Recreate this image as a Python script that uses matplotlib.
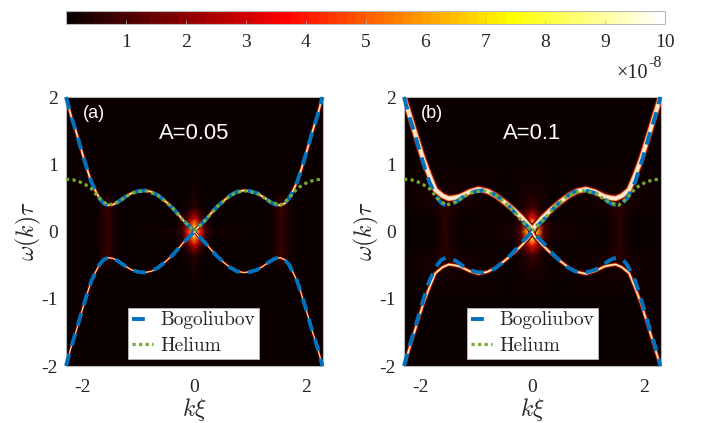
import numpy as np
import matplotlib
matplotlib.use("Agg")
import matplotlib.pyplot as plt

plt.rcParams["axes.unicode_minus"] = False
plt.rcParams["mathtext.fontset"] = "cm"

# curves, read for k >= 0 and mirrored
k_bog = [0.0, 0.1, 0.2, 0.3, 0.41, 0.53, 0.65, 0.76, 0.88, 1.0, 1.12, 1.24, 1.36, 1.45, 1.54, 1.62, 1.69, 1.76, 1.84, 1.91, 1.98, 2.04, 2.10, 2.2, 2.29]
w_bog = [0.0, 0.09, 0.17, 0.27, 0.37, 0.46, 0.54, 0.59, 0.61, 0.6, 0.57, 0.51, 0.44, 0.40, 0.39, 0.42, 0.49, 0.6, 0.74, 0.92, 1.11, 1.28, 1.46, 1.72, 2.0]
k_he = [0.0, 0.2, 0.41, 0.65, 0.88, 1.12, 1.36, 1.54, 1.69, 1.84, 1.95, 2.05, 2.17, 2.29]
w_he = [0.0, 0.17, 0.37, 0.54, 0.61, 0.57, 0.44, 0.39, 0.49, 0.64, 0.70, 0.74, 0.77, 0.776]

# bright bands of the two maps
k_band_a = k_bog
w_band_a = w_bog
k_band_b = [0.0, 0.04, 0.18, 0.33, 0.5, 0.66, 0.8, 0.96, 1.12, 1.29, 1.4, 1.49, 1.6, 1.73, 1.83, 1.94, 2.05, 2.16, 2.29]
w_band_b = [0.0, 0.07, 0.2, 0.32, 0.44, 0.54, 0.6, 0.63, 0.59, 0.52, 0.5, 0.49, 0.53, 0.62, 0.82, 1.06, 1.35, 1.65, 2.0]

# background intensity, read for k >= 0 and w >= 0 (units of 1e-8)
haze_k = [0.0, 0.1, 0.2, 0.35, 1.3, 1.42, 1.55, 1.68, 1.8, 2.3]
haze_w = [0.0, 0.1, 0.2, 0.35, 0.6, 1.0, 2.0]
haze_a = [
    [10.0, 4.5, 0.8, 0.2, 0.1, 0.3, 0.7, 0.3, 0.1, 0.1],
    [6.0, 3.0, 0.5, 0.15, 0.1, 0.3, 0.7, 0.3, 0.1, 0.1],
    [3.0, 1.2, 0.3, 0.12, 0.1, 0.3, 0.7, 0.3, 0.1, 0.1],
    [0.5, 0.3, 0.15, 0.1, 0.1, 0.3, 0.8, 0.3, 0.1, 0.1],
    [0.2, 0.15, 0.1, 0.1, 0.1, 0.1, 0.1, 0.1, 0.1, 0.1],
    [0.1, 0.1, 0.1, 0.1, 0.1, 0.1, 0.1, 0.1, 0.1, 0.1],
    [0.1, 0.1, 0.1, 0.1, 0.1, 0.1, 0.1, 0.1, 0.1, 0.1],
]
haze_b = [
    [10.0, 6.0, 1.2, 0.25, 0.1, 0.3, 0.5, 0.3, 0.1, 0.1],
    [8.0, 4.0, 0.8, 0.2, 0.1, 0.3, 0.5, 0.3, 0.1, 0.1],
    [4.0, 2.0, 0.5, 0.15, 0.1, 0.3, 0.5, 0.3, 0.1, 0.1],
    [0.8, 0.5, 0.25, 0.15, 0.2, 0.4, 0.6, 0.4, 0.2, 0.1],
    [0.3, 0.25, 0.2, 0.15, 0.25, 0.3, 0.3, 0.3, 0.25, 0.1],
    [0.1, 0.1, 0.1, 0.1, 0.1, 0.1, 0.1, 0.1, 0.1, 0.1],
    [0.1, 0.1, 0.1, 0.1, 0.1, 0.1, 0.1, 0.1, 0.1, 0.1],
]

cbar_ticks = [1, 2, 3, 4, 5, 6, 7, 8, 9, 10]
GREY = "#b8b8b8"
TEXT = "#262626"
W, H = 702, 423


def px_axes(fig, x0, y0, x1, y1):
    return fig.add_axes([x0 / W, 1 - y1 / H, (x1 - x0) / W, (y1 - y0) / H])


def mirror(k, w):
    k = np.array(k)
    w = np.array(w)
    return np.concatenate([-k[:0:-1], k]), np.concatenate([w[:0:-1], w])


def draw_haze(ax, haze):
    k = np.concatenate([-np.array(haze_k)[:0:-1], haze_k])
    w = np.concatenate([-np.array(haze_w)[:0:-1], haze_w])
    vals = np.array(haze)
    vals = np.hstack([vals[:, :0:-1], vals])
    vals = np.vstack([vals[:0:-1], vals])
    return ax.pcolormesh(k, w, vals, shading="gouraud", cmap=cmap, vmin=0, vmax=10, rasterized=True)


def draw_band(ax, k, w, layers):
    for lw, color in layers:
        ax.plot(k, w, color=color, lw=lw, solid_joinstyle="round", zorder=2)


def panel(x0, x1, label, title, haze, band, up_layers, low_layers, legend_x):
    ax = px_axes(fig, x0, 97, x1, 366)
    mesh = draw_haze(ax, haze)
    kb, wb = mirror(*band)
    draw_band(ax, kb, wb, up_layers)
    draw_band(ax, kb, -wb, low_layers)

    k, w = mirror(k_bog, w_bog)
    kh, wh = mirror(k_he, w_he)
    dash = (3.3, 2.1)
    l1, = ax.plot(k, w, color="#0072BD", lw=2.8, dashes=dash, zorder=3, label="Bogoliubov", clip_on=False)
    ax.plot(k, -w, color="#0072BD", lw=2.8, dashes=dash, zorder=3, clip_on=False)
    l2, = ax.plot(kh, wh, color="#77AC30", lw=2.3, dashes=(1.0, 1.05), zorder=4, label="Helium")

    ax.set_xlim(-2.29, 2.3)
    ax.set_ylim(-2, 2)
    ax.set_xticks([-2, 0, 2])
    ax.set_yticks([-2, -1, 0, 1, 2])
    ax.tick_params(length=0, labelsize=14, labelcolor=TEXT)
    ax.tick_params(axis="x", pad=9)
    ax.tick_params(axis="y", pad=6)
    for t in ax.get_xticklabels() + ax.get_yticklabels():
        t.set_fontfamily("Liberation Serif")
    for s in ax.spines.values():
        s.set_color(GREY)
        s.set_linewidth(0.8)

    ax.set_xlabel(r"$k\xi$", fontsize=17, color=TEXT, labelpad=0)
    ax.set_ylabel(r"$\omega(k)\tau$", fontsize=17, color=TEXT, labelpad=-1)

    ax.text(0.11, 0.94, label, transform=ax.transAxes, color="white", fontsize=13,
            family="Liberation Sans", ha="center", va="center")
    ax.text(0.5, 0.865, title, transform=ax.transAxes, color="white", fontsize=15.8,
            family="Liberation Sans", ha="center", va="center")

    leg = ax.legend(handles=[l1, l2], loc="lower left", bbox_to_anchor=(legend_x, 0.026),
                    borderaxespad=0, fancybox=False, framealpha=1, edgecolor=GREY,
                    prop={"family": "cmr10", "size": 14}, labelcolor=TEXT,
                    borderpad=0.2, labelspacing=0.4, handlelength=1.1, handletextpad=0.35)
    leg.get_frame().set_linewidth(0.6)
    leg.set_zorder(6)
    return mesh


cmap = plt.get_cmap("hot", 64)
fig = plt.figure(figsize=(W / 100, H / 100), dpi=100)

up_a = [(2.8, "#4a0000"), (2.0, "#c81000"), (1.3, "#ff9a30"), (0.8, "#fff4d0")]
low_a = [(2.0, "#3c0000"), (1.3, "#c81000"), (0.8, "#ffa040"), (0.4, "#fff4d0")]
up_b = [(5.6, "#3c0000"), (4.6, "#a01000"), (3.6, "#ff8a30"), (2.6, "#f8e8d0")]
low_b = [(3.4, "#3c0000"), (2.4, "#b01000"), (1.6, "#ff8a30"), (0.9, "#fff0c8")]

mesh = panel(66, 323, "(a)", "A=0.05", haze_a, (k_band_a, w_band_a), up_a, low_a, 0.241)
panel(404, 661, "(b)", "A=0.1", haze_b, (k_band_b, w_band_b), up_b, low_b, 0.245)

cax = px_axes(fig, 66, 11, 665, 24)
sm = plt.cm.ScalarMappable(norm=plt.Normalize(0, 10), cmap=cmap)
cb = fig.colorbar(sm, cax=cax, orientation="horizontal", ticks=cbar_ticks)
cb.outline.set_edgecolor(GREY)
cb.outline.set_linewidth(0.8)
cax.tick_params(direction="in", length=3, width=0.5, color=GREY, labelsize=14, labelcolor=TEXT, pad=7)
for t in cax.get_xticklabels():
    t.set_fontfamily("Liberation Serif")

fig.text(648 / W, 1 - 73 / H, "\u00d710", fontsize=14.5, color=TEXT, family="Liberation Serif", ha="right", va="center")
fig.text(648 / W, 1 - 63 / H, "-8", fontsize=11.5, color=TEXT, family="Liberation Serif", ha="left", va="center")

fig.savefig("out.png", dpi=100)
